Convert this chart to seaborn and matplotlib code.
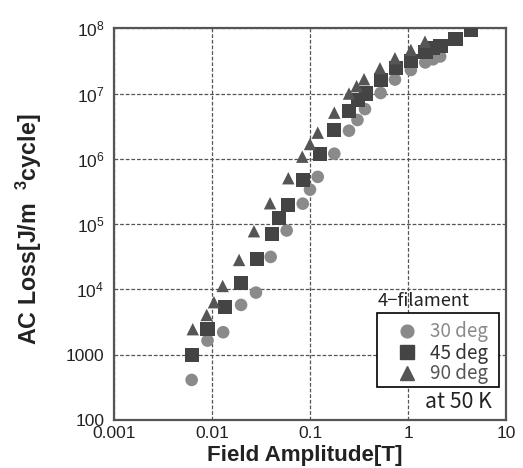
import matplotlib
matplotlib.use("Agg")
import matplotlib.pyplot as plt
import seaborn as sns
import pandas as pd
import numpy as np
from matplotlib.lines import Line2D
from matplotlib.patches import Rectangle
from matplotlib.ticker import FixedLocator, FixedFormatter, NullLocator

# ---- data ----
x_30 = [0.0062, 0.0090, 0.0130, 0.0198, 0.0281, 0.0397, 0.0578, 0.0843, 0.100, 0.120,
        0.177, 0.250, 0.305, 0.364, 0.526, 0.736, 1.07, 1.50, 1.80, 2.13]
y_30 = [411, 1645, 2210, 5790, 8940, 31500, 80000, 206000, 338000, 530000,
        1.2e6, 2.7e6, 3.94e6, 5.78e6, 1.02e7, 1.64e7, 2.3e7, 3.0e7, 3.35e7, 3.7e7]

x_45 = [0.0062, 0.0090, 0.0136, 0.0196, 0.0286, 0.0407, 0.0486, 0.0592, 0.0855, 0.1265,
        0.176, 0.25, 0.307, 0.37, 0.526, 0.75, 1.08, 1.51, 1.81, 2.15, 3.06, 4.36]
y_45 = [1000, 2510, 5340, 12400, 29300, 70800, 123000, 197000, 475000, 1.19e6,
        2.77e6, 5.47e6, 7.98e6, 1.0e7, 1.62e7, 2.44e7, 3.15e7, 4.38e7, 4.94e7, 5.42e7, 6.85e7, 9.42e7]

x_90 = [0.00636, 0.00883, 0.01047, 0.01285, 0.0189, 0.0268, 0.0391, 0.0601, 0.0834, 0.100,
        0.120, 0.177, 0.25, 0.299, 0.356, 0.518, 0.736, 1.07, 1.49]
y_90 = [2460, 4070, 6370, 11300, 28300, 77900, 209000, 505000, 1.08e6, 1.69e6,
        2.52e6, 5.1e6, 1.0e7, 1.3e7, 1.66e7, 2.44e7, 3.48e7, 4.66e7, 6.24e7]

series_labels = ["30 deg", "45 deg", "90 deg"]
x_ticks = [0.001, 0.01, 0.1, 1, 10]
x_tick_labels = ["0.001", "0.01", "0.1", "1", "10"]
y_ticks = [100, 1000, 1e4, 1e5, 1e6, 1e7, 1e8]
y_tick_labels = ["100", "1000", r"$10^{4}$", r"$10^{5}$", r"$10^{6}$", r"$10^{7}$", r"$10^{8}$"]

sns.set_style("white")
plt.rcParams["font.family"] = ["Liberation Sans", "DejaVu Sans"]
plt.rcParams["mathtext.fontset"] = "custom"
plt.rcParams["mathtext.rm"] = "Liberation Sans"
plt.rcParams["mathtext.it"] = "Liberation Sans"
plt.rcParams["mathtext.bf"] = "Liberation Sans:bold"

W, H = 523, 468
AX_L, AX_R, AX_T, AX_B = 114, 506, 28.3, 420
fig = plt.figure(figsize=(W / 100, H / 100), dpi=100)
ax = fig.add_axes([AX_L / W, 1 - AX_B / H, (AX_R - AX_L) / W, (AX_B - AX_T) / H])


def ax_xy(px, py):
    return ((px - AX_L) / (AX_R - AX_L), (AX_B - py) / (AX_B - AX_T))


colors = ["#8a8a8a", "#444444", "#555555"]
markers = ["o", "s", "^"]
sizes = [82, 105, 80]
data = [(x_30, y_30), (x_45, y_45), (x_90, y_90)]
for (xs, ys), lab, c, m, s in zip(data, series_labels, colors, markers, sizes):
    df = pd.DataFrame({"x": xs, "y": ys})
    sns.scatterplot(data=df, x="x", y="y", ax=ax, color=c, marker=m, s=s,
                    edgecolor="none", linewidth=0, zorder=3, legend=False)

ax.set_xscale("log")
ax.set_yscale("log")
ax.set_xlim(0.001, 10)
ax.set_ylim(100, 1e8)
ax.xaxis.set_major_locator(FixedLocator(x_ticks))
ax.xaxis.set_major_formatter(FixedFormatter(x_tick_labels))
ax.yaxis.set_major_locator(FixedLocator(y_ticks))
ax.yaxis.set_major_formatter(FixedFormatter(y_tick_labels))
ax.xaxis.set_minor_locator(NullLocator())
ax.yaxis.set_minor_locator(NullLocator())
ax.tick_params(axis="both", which="major", length=0, labelsize=12.5, colors="#222222")
ax.tick_params(axis="y", pad=7)
ax.tick_params(axis="x", pad=4)

ax.grid(True, which="major", linestyle=(0, (3, 1.5)), color="#555555", linewidth=0.9)
for sp in ax.spines.values():
    sp.set_color("#555555")
    sp.set_linewidth(1.6)
ax.set_xlabel("")
ax.set_ylabel("")

cjk = ["Noto Sans CJK JP", "DejaVu Sans"]
renderer = fig.canvas.get_renderer()


def fit(t, target, use_height=False):
    bb = t.get_window_extent(renderer)
    cur = bb.height if use_height else bb.width
    t.set_fontsize(t.get_fontsize() * target / cur)


xl = fig.text(305 / W, 1 - 456 / H, "Field Amplitude[T]", fontsize=15, fontweight="bold",
              ha="center", va="center", color="#222222")
fit(xl, 197)
yl = fig.text(29 / W, 1 - 229 / H, "AC Loss[J/m  $\\mathbf{^{3}}$cycle]", fontsize=15,
              fontweight="bold", rotation=90, ha="center", va="center", color="#222222")
fit(yl, 232, use_height=True)

# annotation texts around the legend
t1 = ax.text(*ax_xy(378, 301.5), "4\u2212filament", transform=ax.transAxes, ha="left",
             va="center", fontsize=13.5, family=cjk, color="#222222")
fit(t1, 92)
t2 = ax.text(*ax_xy(492, 401.7), "at 50 K", transform=ax.transAxes, ha="right",
             va="center", fontsize=13.5, family=cjk, color="#222222")
fit(t2, 67)

# legend font size so that "30 deg" is ~58 px wide
probe = fig.text(0, 0, "30 deg", fontsize=13.5, family=cjk)
bbw = probe.get_window_extent(renderer).width
leg_fs = 13.5 * 58 / bbw
probe.remove()
em = leg_fs * 100 / 72  # px per em

# legend frame drawn at the reference position
fx0, fy0 = ax_xy(377.3, 387.3)
fx1, fy1 = ax_xy(499.3, 312.7)
ax.add_patch(Rectangle((fx0, fy0), fx1 - fx0, fy1 - fy0, transform=ax.transAxes,
                       fill=True, facecolor="white", edgecolor="black", linewidth=1.2,
                       zorder=4))

L_px = 30
handles = [Line2D([], [], linestyle="none", marker=m, color=c, markersize=ms)
           for m, c, ms in zip(markers, colors, [9.2, 9.8, 9.6])]
leg = ax.legend(handles, series_labels, loc="upper left",
                bbox_to_anchor=ax_xy(407 - L_px / 2, 321.5),
                frameon=False, prop={"family": cjk, "size": leg_fs},
                handletextpad=(430 - (407 + L_px / 2)) / em, borderpad=0,
                labelspacing=0.0, handlelength=L_px / em, borderaxespad=0)
leg.set_zorder(5)
for t, c in zip(leg.get_texts(), ["#8a8a8a", "#333333", "#555555"]):
    t.set_color(c)

fig.savefig("out.png", dpi=100)
